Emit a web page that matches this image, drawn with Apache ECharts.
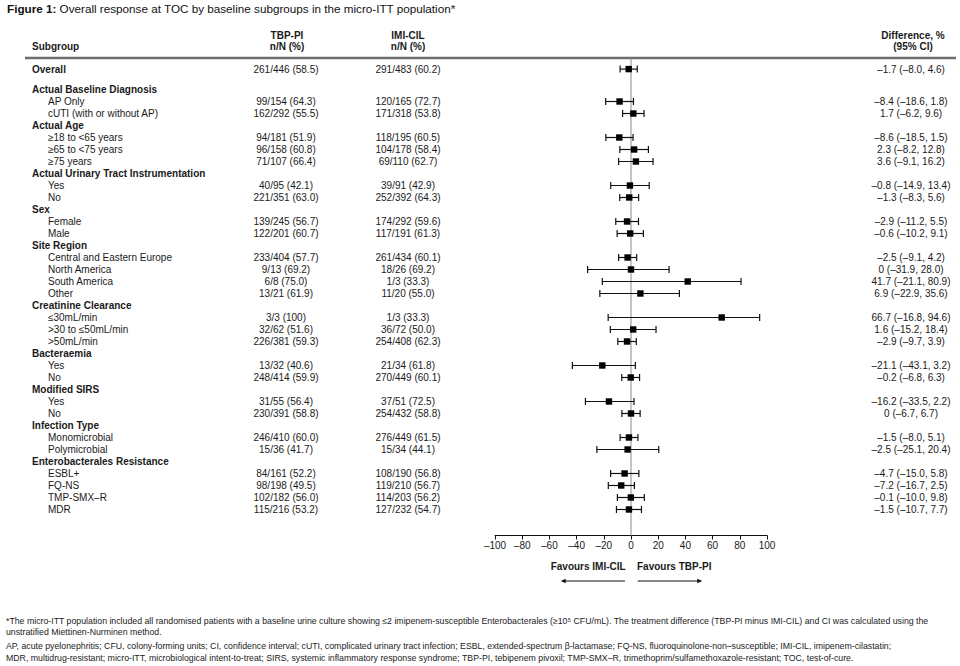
<!DOCTYPE html>
<html><head><meta charset="utf-8">
<script src="https://cdn.jsdelivr.net/npm/echarts@6/dist/echarts.min.js"></script>
<style>html,body{margin:0;padding:0;background:#fff}#c{width:960px;height:666px}</style>
</head><body><div id="c"></div>
<script>
// ---------------- DATA ----------------
const subgroupLabels = [
  'Overall',
  'Actual Baseline Diagnosis', 'AP Only', 'cUTI (with or without AP)',
  'Actual Age', '≥18 to <65 years', '≥65 to <75 years', '≥75 years',
  'Actual Urinary Tract Instrumentation', 'Yes', 'No',
  'Sex', 'Female', 'Male',
  'Site Region', 'Central and Eastern Europe', 'North America', 'South America', 'Other',
  'Creatinine Clearance', '≤30mL/min', '>30 to ≤50mL/min', '>50mL/min',
  'Bacteraemia', 'Yes', 'No',
  'Modified SIRS', 'Yes', 'No',
  'Infection Type', 'Monomicrobial', 'Polymicrobial',
  'Enterobacterales Resistance', 'ESBL+', 'FQ-NS', 'TMP-SMX–R', 'MDR'
];
// 'o' overall, 'h' group header, 'i' item
const rowKind = ['o','h','i','i','h','i','i','i','h','i','i','h','i','i','h','i','i','i','i','h','i','i','i','h','i','i','h','i','i','h','i','i','h','i','i','i','i'];
const tbpResponse = [
  '261/446 (58.5)',
  null, '99/154 (64.3)', '162/292 (55.5)',
  null, '94/181 (51.9)', '96/158 (60.8)', '71/107 (66.4)',
  null, '40/95 (42.1)', '221/351 (63.0)',
  null, '139/245 (56.7)', '122/201 (60.7)',
  null, '233/404 (57.7)', '9/13 (69.2)', '6/8 (75.0)', '13/21 (61.9)',
  null, '3/3 (100)', '32/62 (51.6)', '226/381 (59.3)',
  null, '13/32 (40.6)', '248/414 (59.9)',
  null, '31/55 (56.4)', '230/391 (58.8)',
  null, '246/410 (60.0)', '15/36 (41.7)',
  null, '84/161 (52.2)', '98/198 (49.5)', '102/182 (56.0)', '115/216 (53.2)'
];
const imiResponse = [
  '291/483 (60.2)',
  null, '120/165 (72.7)', '171/318 (53.8)',
  null, '118/195 (60.5)', '104/178 (58.4)', '69/110 (62.7)',
  null, '39/91 (42.9)', '252/392 (64.3)',
  null, '174/292 (59.6)', '117/191 (61.3)',
  null, '261/434 (60.1)', '18/26 (69.2)', '1/3 (33.3)', '11/20 (55.0)',
  null, '1/3 (33.3)', '36/72 (50.0)', '254/408 (62.3)',
  null, '21/34 (61.8)', '270/449 (60.1)',
  null, '37/51 (72.5)', '254/432 (58.8)',
  null, '276/449 (61.5)', '15/34 (44.1)',
  null, '108/190 (56.8)', '119/210 (56.7)', '114/203 (56.2)', '127/232 (54.7)'
];
const diffPct = [
  -1.7,
  null, -8.4, 1.7,
  null, -8.6, 2.3, 3.6,
  null, -0.8, -1.3,
  null, -2.9, -0.6,
  null, -2.5, 0, 41.7, 6.9,
  null, 66.7, 1.6, -2.9,
  null, -21.1, -0.2,
  null, -16.2, 0,
  null, -1.5, -2.5,
  null, -4.7, -7.2, -0.1, -1.5
];
const ciLower = [
  -8.0,
  null, -18.6, -6.2,
  null, -18.5, -8.2, -9.1,
  null, -14.9, -8.3,
  null, -11.2, -10.2,
  null, -9.1, -31.9, -21.1, -22.9,
  null, -16.8, -15.2, -9.7,
  null, -43.1, -6.8,
  null, -33.5, -6.7,
  null, -8.0, -25.1,
  null, -15.0, -16.7, -10.0, -10.7
];
const ciUpper = [
  4.6,
  null, 1.8, 9.6,
  null, 1.5, 12.8, 16.2,
  null, 13.4, 5.6,
  null, 5.5, 9.1,
  null, 4.2, 28.0, 80.9, 35.6,
  null, 94.6, 18.4, 3.9,
  null, 3.2, 6.3,
  null, 2.2, 6.7,
  null, 5.1, 20.4,
  null, 5.8, 2.5, 9.8, 7.7
];
const xTicks = [-100, -80, -60, -40, -20, 0, 20, 40, 60, 80, 100];
const titleBold = 'Figure 1:';
const titleText = ' Overall response at TOC by baseline subgroups in the micro-ITT population*';
const headers = { subgroup: 'Subgroup', tbp: ['TBP-PI', 'n/N (%)'], imi: ['IMI-CIL', 'n/N (%)'], diff: ['Difference, %', '(95% CI)'] };
const favoursLeft = 'Favours IMI-CIL';
const favoursRight = 'Favours TBP-PI';
const footnotes = [
  '*The micro-ITT population included all randomised patients with a baseline urine culture showing ≤2 imipenem-susceptible Enterobacterales (≥10⁵ CFU/mL). The treatment difference (TBP-PI minus IMI-CIL) and CI was calculated using the',
  'unstratified Miettinen-Nurminen method.',
  'AP, acute pyelonephritis; CFU, colony-forming units; CI, confidence interval; cUTI, complicated urinary tract infection; ESBL, extended-spectrum β-lactamase; FQ-NS, fluoroquinolone-non–susceptible; IMI-CIL, imipenem-cilastatin;',
  'MDR, multidrug-resistant; micro-ITT, microbiological intent-to-treat; SIRS, systemic inflammatory response syndrome; TBP-PI, tebipenem pivoxil; TMP-SMX–R, trimethoprim/sulfamethoxazole-resistant; TOC, test-of-cure.'
];

// ---------------- LAYOUT ----------------
const FONT = '"Liberation Sans", Arial, Helvetica, sans-serif';
const TXT = '#1a1a1a';
const G = { left: 495, right: 193, top: 58, bottom: 130.5 };
const OVERALL_GAP = 1.7;          // overall row sits 1.7 rows above the first group
const Y_MIN = -2.625, Y_MAX = 37.167;
const COL = { header: 32, item: 48, tbp: 286, imi: 408, diff: 911 };

const rowPos = subgroupLabels.map((_, i) => i === 0 ? -OVERALL_GAP : i - 1);

function fmt(v) {
  if (v === 0) return '0';
  const s = Math.abs(v).toFixed(1);
  return v < 0 ? '–' + s : s;
}
function fmtTick(v) { return v < 0 ? '–' + Math.abs(v) : String(v); }

const textData = subgroupLabels.map((_, i) => [0, rowPos[i], i]);
const ciData = [];
diffPct.forEach((d, i) => { if (d !== null) ciData.push([d, ciLower[i], ciUpper[i], rowPos[i]]); });

function txt(x, y, text, weight, align) {
  return { type: 'text', x: x, y: y, style: {
    text: text, x: 0, y: 0, font: (weight || 'normal') + ' 10px ' + FONT, fill: TXT,
    align: align || 'left', verticalAlign: 'middle', textAlign: align || 'left', textVerticalAlign: 'middle' } };
}

function renderRowText(params, api) {
  const i = api.value(2);
  const y = api.coord([0, api.value(1)])[1];
  const kind = rowKind[i];
  const children = [];
  if (kind === 'i') children.push(txt(COL.item, y, subgroupLabels[i], 'normal', 'left'));
  else children.push(txt(COL.header, y, subgroupLabels[i], 'bold', 'left'));
  if (tbpResponse[i]) children.push(txt(COL.tbp, y, tbpResponse[i], 'normal', 'center'));
  if (imiResponse[i]) children.push(txt(COL.imi, y, imiResponse[i], 'normal', 'center'));
  if (diffPct[i] !== null) children.push(txt(COL.diff, y, fmt(diffPct[i]) + ' (' + fmt(ciLower[i]) + ', ' + fmt(ciUpper[i]) + ')', 'normal', 'center'));
  return { type: 'group', children: children };
}

function renderCI(params, api) {
  const p = api.value(3);
  const c = api.coord([api.value(0), p]);
  const l = api.coord([api.value(1), p]);
  const h = api.coord([api.value(2), p]);
  const cap = 3.5, s = 3.2;
  const ls = { stroke: '#111', lineWidth: 1.2 };
  return { type: 'group', children: [
    { type: 'line', shape: { x1: l[0], y1: c[1], x2: h[0], y2: c[1] }, style: ls },
    { type: 'line', shape: { x1: l[0], y1: c[1] - cap, x2: l[0], y2: c[1] + cap }, style: ls },
    { type: 'line', shape: { x1: h[0], y1: c[1] - cap, x2: h[0], y2: c[1] + cap }, style: ls },
    { type: 'rect', shape: { x: c[0] - s, y: c[1] - s, width: 2 * s, height: 2 * s }, style: { fill: '#000' } }
  ] };
}

function renderZero(params, api) {
  const a = api.coord([0, Y_MIN]);
  const b = api.coord([0, Y_MAX]);
  return { type: 'line', shape: { x1: a[0], y1: a[1], x2: b[0], y2: b[1] }, style: { stroke: '#8c8c8c', lineWidth: 1 } };
}

function renderFavours(params, api) {
  const y0 = api.coord([0, Y_MAX])[1];
  const ty = y0 + 30.5, ay = y0 + 45.5;
  const lx1 = api.coord([-4.4, Y_MAX])[0], lx2 = api.coord([-51.7, Y_MAX])[0];
  const rx1 = api.coord([4.9, Y_MAX])[0], rx2 = api.coord([52.4, Y_MAX])[0];
  const lsty = { stroke: '#111', lineWidth: 1.2 };
  return { type: 'group', children: [
    txt(api.coord([-31.5, Y_MAX])[0], ty, favoursLeft, 'bold', 'center'),
    txt(api.coord([31.8, Y_MAX])[0], ty, favoursRight, 'bold', 'center'),
    { type: 'line', shape: { x1: lx1, y1: ay, x2: lx2 + 2, y2: ay }, style: lsty },
    { type: 'polygon', shape: { points: [[lx2, ay], [lx2 + 5, ay - 2.2], [lx2 + 5, ay + 2.2]] }, style: { fill: '#111' } },
    { type: 'line', shape: { x1: rx1, y1: ay, x2: rx2 - 2, y2: ay }, style: lsty },
    { type: 'polygon', shape: { points: [[rx2, ay], [rx2 - 5, ay - 2.2], [rx2 - 5, ay + 2.2]] }, style: { fill: '#111' } }
  ] };
}

const graphics = [
  { type: 'text', x: 7, y: 8, style: { text: '{b|' + titleBold + '}' + titleText, font: '11.7px ' + FONT, fill: '#111',
      textVerticalAlign: 'middle', verticalAlign: 'middle',
      rich: { b: { fontWeight: 'bold', fontSize: 11.7, fontFamily: FONT, fill: '#111' } } } },
  txt(COL.header, 46.5, headers.subgroup, 'bold', 'left'),
  txt(COL.tbp + 1, 35, headers.tbp[0], 'bold', 'center'),
  txt(COL.tbp + 1, 46.5, headers.tbp[1], 'bold', 'center'),
  txt(COL.imi, 35, headers.imi[0], 'bold', 'center'),
  txt(COL.imi, 46.5, headers.imi[1], 'bold', 'center'),
  txt(COL.diff + 2, 35, headers.diff[0], 'bold', 'center'),
  txt(COL.diff + 2, 46.5, headers.diff[1], 'bold', 'center'),
  { type: 'line', shape: { x1: 25, y1: 58, x2: 956, y2: 58 }, style: { stroke: '#6e6e6e', lineWidth: 2.5 } }
];
const footY = [621, 632, 646, 658];
footnotes.forEach((t, k) => {
  graphics.push({ type: 'text', x: 6, y: footY[k], style: { text: t, font: '8.75px ' + FONT, fill: '#222',
    verticalAlign: 'middle', textVerticalAlign: 'middle' } });
});

const chart = echarts.init(document.getElementById('c'), null, { renderer: 'svg' });
chart.setOption({
  animation: false,
  backgroundColor: '#fff',
  grid: G,
  xAxis: {
    type: 'value', position: 'bottom', min: xTicks[0], max: xTicks[xTicks.length - 1], interval: 20,
    axisLine: { show: true, onZero: false, lineStyle: { color: '#111', width: 1 } },
    axisTick: { show: true, length: 4, lineStyle: { color: '#111' } },
    axisLabel: { fontSize: 10, fontFamily: FONT, color: TXT, margin: 5, formatter: fmtTick },
    splitLine: { show: false }
  },
  yAxis: { type: 'value', inverse: true, min: Y_MIN, max: Y_MAX, show: false, splitLine: { show: false } },
  graphic: graphics,
  series: [
    { type: 'custom', name: 'zero', data: [[0, 0]], renderItem: renderZero, clip: false, silent: true, z: 1 },
    { type: 'custom', name: 'rows', data: textData, renderItem: renderRowText, clip: false, silent: true,
      encode: { x: 0, y: 1 } },
    { type: 'custom', name: 'ci', data: ciData, renderItem: renderCI, clip: false, silent: true, z: 3,
      encode: { x: [0, 1, 2], y: 3 } },
    { type: 'custom', name: 'favours', data: [[0, 0]], renderItem: renderFavours, clip: false, silent: true }
  ]
});
</script></body></html>
